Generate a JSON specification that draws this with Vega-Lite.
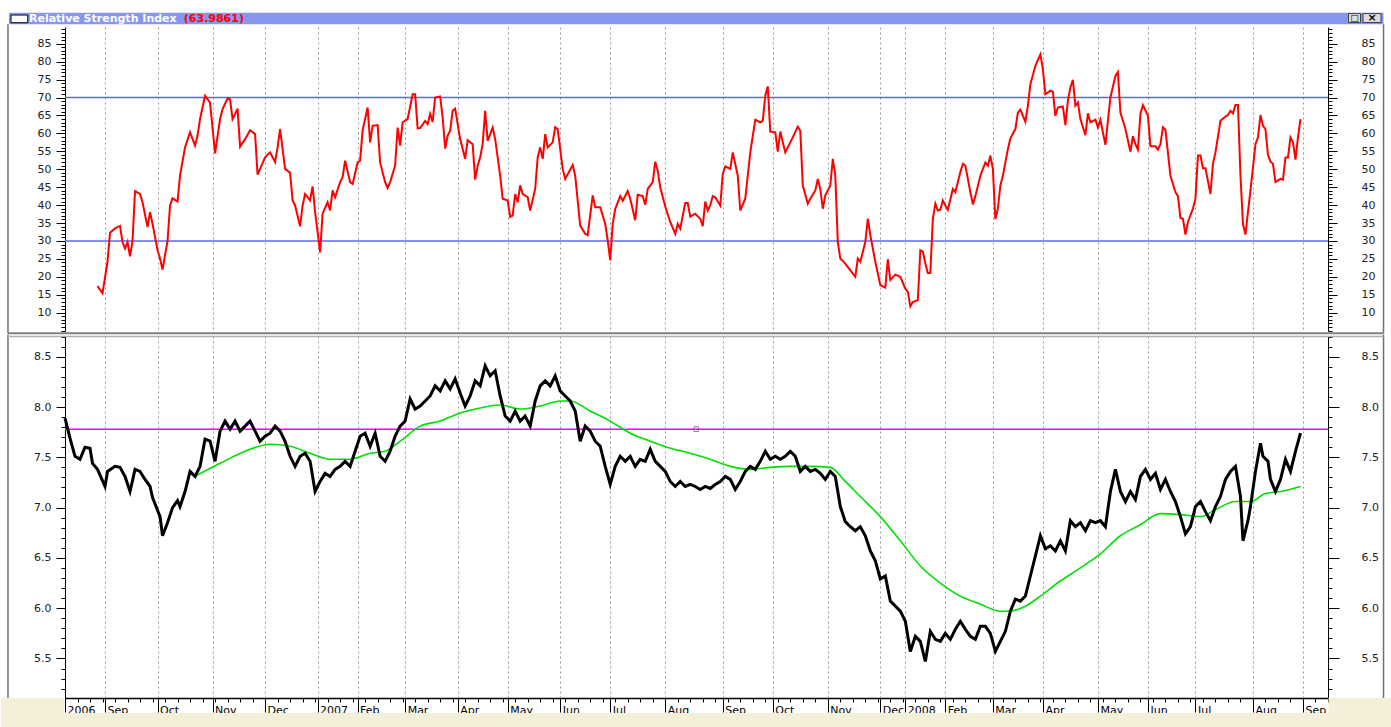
{
"$schema": "https://vega.github.io/schema/vega-lite/v6.json",
"background": "white",
"padding": {"left": 0, "top": 12, "right": 0, "bottom": 0},
"spacing": 5,
"bounds": "flush",
"config": {"view": {"stroke": null}, "axis": {"labelFont": "DejaVu Sans", "labelFontSize": 11, "labelColor": "#222222", "tickColor": "#000000", "domainColor": "#000000"}},
"datasets": {
"one": [{}],
"rsi": [
{"d":13,"v":17.4},{"d":15,"v":15.4},{"d":17,"v":24.2},{"d":18,"v":32.3},{"d":20,"v":33.5},{"d":22,"v":34.2},{"d":23,"v":29.7},{"d":24,"v":27.9},{"d":25,"v":29.7},{"d":26,"v":25.7},{"d":27,"v":30},{"d":28,"v":43.9},{"d":30,"v":43.1},{"d":31,"v":40.8},{"d":33,"v":33.9},{"d":34,"v":38},{"d":35,"v":34.8},{"d":37,"v":27.4},{"d":38,"v":25.1},{"d":39,"v":22},{"d":41,"v":30},{"d":42,"v":39.9},{"d":43,"v":41.9},{"d":45,"v":41},{"d":46,"v":48.2},{"d":48,"v":56.1},{"d":50,"v":60.3},{"d":52,"v":56.6},{"d":53,"v":59.4},{"d":54,"v":64},{"d":56,"v":70.5},{"d":58,"v":68.6},{"d":60,"v":54.4},{"d":62,"v":64},{"d":63,"v":66.8},{"d":65,"v":69.8},{"d":66,"v":69.5},{"d":67,"v":64},{"d":68,"v":65.4},{"d":69,"v":66.9},{"d":70,"v":56.3},{"d":72,"v":58.4},{"d":74,"v":60.9},{"d":76,"v":59.8},{"d":77,"v":48.5},{"d":78,"v":50.1},{"d":80,"v":53.3},{"d":82,"v":54.7},{"d":84,"v":52},{"d":85,"v":56.1},{"d":86,"v":61.2},{"d":88,"v":50.1},{"d":90,"v":49},{"d":91,"v":41.3},{"d":92,"v":39.9},{"d":94,"v":34.1},{"d":95,"v":39.9},{"d":96,"v":43.1},{"d":98,"v":41.3},{"d":99,"v":45.2},{"d":100,"v":38.1},{"d":102,"v":26.8},{"d":103,"v":37.6},{"d":105,"v":40.8},{"d":106,"v":38.5},{"d":107,"v":44.1},{"d":108,"v":42.2},{"d":110,"v":46.4},{"d":111,"v":47.8},{"d":112,"v":52.4},{"d":114,"v":46.4},{"d":115,"v":45.9},{"d":117,"v":51.9},{"d":118,"v":52.4},{"d":119,"v":60.8},{"d":121,"v":67.2},{"d":122,"v":57.5},{"d":123,"v":62.1},{"d":125,"v":62.3},{"d":126,"v":51.9},{"d":128,"v":46.4},{"d":129,"v":44.8},{"d":130,"v":46.4},{"d":132,"v":51},{"d":133,"v":61.6},{"d":134,"v":56.6},{"d":135,"v":63.1},{"d":137,"v":64},{"d":139,"v":70.9},{"d":140,"v":70.9},{"d":141,"v":61.4},{"d":142,"v":61.5},{"d":144,"v":63.5},{"d":145,"v":62.6},{"d":146,"v":65.4},{"d":147,"v":63.2},{"d":148,"v":70},{"d":150,"v":70.3},{"d":151,"v":64.4},{"d":152,"v":55.8},{"d":153,"v":59.4},{"d":154,"v":60.7},{"d":155,"v":66.3},{"d":156,"v":66.9},{"d":158,"v":58.4},{"d":160,"v":52.9},{"d":161,"v":58.1},{"d":163,"v":57},{"d":164,"v":47.1},{"d":165,"v":51},{"d":166,"v":53.3},{"d":167,"v":57},{"d":168,"v":66.3},{"d":169,"v":57.9},{"d":171,"v":61.6},{"d":172,"v":58.4},{"d":174,"v":48.2},{"d":175,"v":41.8},{"d":177,"v":41.3},{"d":178,"v":36.7},{"d":179,"v":37.1},{"d":180,"v":43.1},{"d":181,"v":40.8},{"d":182,"v":45.5},{"d":183,"v":43.1},{"d":185,"v":42.2},{"d":186,"v":38.5},{"d":188,"v":44.5},{"d":189,"v":53.3},{"d":190,"v":56.1},{"d":191,"v":52.9},{"d":192,"v":59.8},{"d":193,"v":56.1},{"d":195,"v":57.5},{"d":196,"v":61.7},{"d":197,"v":61.2},{"d":199,"v":50.1},{"d":200,"v":47.3},{"d":203,"v":51.2},{"d":204,"v":48.2},{"d":206,"v":34.3},{"d":208,"v":32},{"d":209,"v":31.6},{"d":211,"v":42.7},{"d":212,"v":39.4},{"d":214,"v":39.4},{"d":216,"v":34.8},{"d":217,"v":30.2},{"d":218,"v":24.6},{"d":219,"v":34.8},{"d":220,"v":38.9},{"d":222,"v":42.5},{"d":223,"v":41.2},{"d":225,"v":43.9},{"d":226,"v":41.8},{"d":228,"v":35.8},{"d":229,"v":42.9},{"d":231,"v":42.5},{"d":232,"v":40.1},{"d":233,"v":44.5},{"d":235,"v":46.4},{"d":236,"v":52.1},{"d":237,"v":49.6},{"d":238,"v":45},{"d":240,"v":39.6},{"d":242,"v":35.3},{"d":244,"v":32},{"d":245,"v":34.8},{"d":246,"v":33.4},{"d":248,"v":40.6},{"d":249,"v":40.6},{"d":250,"v":36.8},{"d":252,"v":37.6},{"d":254,"v":36.2},{"d":255,"v":34.1},{"d":256,"v":41},{"d":257,"v":38.5},{"d":258,"v":39.9},{"d":259,"v":42.5},{"d":260,"v":42.2},{"d":262,"v":39.9},{"d":263,"v":48.7},{"d":264,"v":50.8},{"d":266,"v":50.1},{"d":267,"v":54.7},{"d":269,"v":48.2},{"d":270,"v":38.5},{"d":272,"v":41.8},{"d":273,"v":48.2},{"d":274,"v":54.7},{"d":276,"v":63.8},{"d":278,"v":63.1},{"d":279,"v":63.5},{"d":280,"v":70.5},{"d":281,"v":73.1},{"d":282,"v":60.5},{"d":284,"v":60.3},{"d":285,"v":54.9},{"d":286,"v":60.5},{"d":287,"v":57.5},{"d":288,"v":54.7},{"d":290,"v":57.5},{"d":291,"v":58.9},{"d":293,"v":61.9},{"d":294,"v":60.7},{"d":295,"v":45.5},{"d":297,"v":40.4},{"d":298,"v":41.8},{"d":300,"v":44.1},{"d":301,"v":47.3},{"d":302,"v":44.5},{"d":303,"v":39},{"d":304,"v":42.7},{"d":306,"v":45.5},{"d":307,"v":52.9},{"d":308,"v":48.2},{"d":309,"v":29.7},{"d":310,"v":25.1},{"d":312,"v":23.7},{"d":314,"v":21.8},{"d":316,"v":20},{"d":317,"v":25.1},{"d":318,"v":24.2},{"d":320,"v":29.7},{"d":321,"v":36.2},{"d":322,"v":31.6},{"d":324,"v":24.2},{"d":326,"v":17.7},{"d":328,"v":17},{"d":329,"v":24.9},{"d":330,"v":19.1},{"d":332,"v":20.6},{"d":334,"v":20},{"d":336,"v":16.7},{"d":337,"v":15.8},{"d":338,"v":11.8},{"d":339,"v":13},{"d":341,"v":13.5},{"d":342,"v":27.4},{"d":343,"v":27.1},{"d":344,"v":23.7},{"d":345,"v":21.1},{"d":346,"v":21.1},{"d":347,"v":36.2},{"d":348,"v":40.4},{"d":349,"v":38.5},{"d":350,"v":38.7},{"d":351,"v":41.3},{"d":352,"v":39.9},{"d":353,"v":38.7},{"d":355,"v":44.5},{"d":356,"v":43.6},{"d":358,"v":49.2},{"d":359,"v":51.5},{"d":360,"v":51},{"d":362,"v":43.6},{"d":363,"v":40.2},{"d":364,"v":42.5},{"d":366,"v":48.2},{"d":368,"v":51.9},{"d":369,"v":51},{"d":370,"v":53.8},{"d":371,"v":50.1},{"d":372,"v":36.1},{"d":373,"v":39},{"d":374,"v":45.5},{"d":375,"v":48.2},{"d":377,"v":55.6},{"d":378,"v":58.6},{"d":380,"v":61.2},{"d":381,"v":65.8},{"d":382,"v":66.6},{"d":384,"v":63.2},{"d":385,"v":67.7},{"d":386,"v":73.7},{"d":388,"v":78.8},{"d":390,"v":82},{"d":391,"v":77.9},{"d":392,"v":70.9},{"d":394,"v":71.9},{"d":395,"v":71.6},{"d":396,"v":64.9},{"d":397,"v":67.2},{"d":399,"v":67.5},{"d":400,"v":62.3},{"d":401,"v":69.1},{"d":402,"v":72.8},{"d":403,"v":74.9},{"d":404,"v":67.7},{"d":405,"v":68.6},{"d":406,"v":64},{"d":408,"v":59.5},{"d":409,"v":65.6},{"d":410,"v":63.1},{"d":412,"v":63.8},{"d":413,"v":61.7},{"d":414,"v":63.8},{"d":416,"v":56.8},{"d":417,"v":63.5},{"d":418,"v":70},{"d":420,"v":76},{"d":421,"v":77.1},{"d":422,"v":65.8},{"d":424,"v":61.2},{"d":426,"v":54.9},{"d":427,"v":59.2},{"d":428,"v":57},{"d":429,"v":55.5},{"d":430,"v":65.4},{"d":431,"v":67.9},{"d":433,"v":64.9},{"d":434,"v":56.4},{"d":436,"v":56.4},{"d":437,"v":55.5},{"d":438,"v":57},{"d":439,"v":61.7},{"d":440,"v":61},{"d":442,"v":48.2},{"d":444,"v":43.6},{"d":445,"v":42.5},{"d":446,"v":36.4},{"d":447,"v":36.2},{"d":448,"v":31.8},{"d":449,"v":35.3},{"d":451,"v":39},{"d":452,"v":41.8},{"d":453,"v":53.8},{"d":454,"v":53.8},{"d":455,"v":50.3},{"d":456,"v":50.3},{"d":458,"v":43.1},{"d":459,"v":51.5},{"d":460,"v":54.7},{"d":462,"v":63.5},{"d":464,"v":64.7},{"d":465,"v":65.1},{"d":466,"v":66.3},{"d":467,"v":65.6},{"d":468,"v":67.9},{"d":469,"v":67.9},{"d":470,"v":48.2},{"d":471,"v":34.8},{"d":472,"v":31.8},{"d":473,"v":38.1},{"d":474,"v":44.1},{"d":476,"v":57},{"d":477,"v":58.9},{"d":478,"v":65.1},{"d":479,"v":62.1},{"d":480,"v":61.2},{"d":481,"v":54},{"d":482,"v":52.1},{"d":483,"v":51.5},{"d":484,"v":46.4},{"d":486,"v":47.3},{"d":487,"v":47.1},{"d":488,"v":53.3},{"d":489,"v":53.3},{"d":490,"v":58.9},{"d":491,"v":57.5},{"d":492,"v":52.7},{"d":493,"v":58.9},{"d":494,"v":63.99}
],
"price": [
{"d":0,"v":7.89},{"d":2,"v":7.69},{"d":4,"v":7.51},{"d":6,"v":7.48},{"d":8,"v":7.6},{"d":10,"v":7.59},{"d":11,"v":7.44},{"d":13,"v":7.38},{"d":16,"v":7.21},{"d":17,"v":7.36},{"d":20,"v":7.41},{"d":22,"v":7.4},{"d":24,"v":7.31},{"d":26,"v":7.16},{"d":28,"v":7.38},{"d":30,"v":7.36},{"d":32,"v":7.28},{"d":34,"v":7.21},{"d":35,"v":7.1},{"d":38,"v":6.91},{"d":39,"v":6.72},{"d":41,"v":6.85},{"d":43,"v":7},{"d":45,"v":7.07},{"d":46,"v":7.01},{"d":48,"v":7.16},{"d":50,"v":7.36},{"d":52,"v":7.31},{"d":54,"v":7.41},{"d":56,"v":7.68},{"d":58,"v":7.66},{"d":60,"v":7.46},{"d":62,"v":7.76},{"d":64,"v":7.86},{"d":66,"v":7.78},{"d":68,"v":7.86},{"d":70,"v":7.76},{"d":72,"v":7.81},{"d":74,"v":7.86},{"d":76,"v":7.76},{"d":78,"v":7.66},{"d":80,"v":7.71},{"d":82,"v":7.74},{"d":84,"v":7.81},{"d":86,"v":7.76},{"d":88,"v":7.66},{"d":90,"v":7.51},{"d":92,"v":7.41},{"d":94,"v":7.51},{"d":96,"v":7.54},{"d":98,"v":7.46},{"d":100,"v":7.16},{"d":102,"v":7.26},{"d":104,"v":7.34},{"d":106,"v":7.31},{"d":108,"v":7.38},{"d":110,"v":7.41},{"d":112,"v":7.46},{"d":114,"v":7.41},{"d":116,"v":7.56},{"d":118,"v":7.71},{"d":120,"v":7.74},{"d":122,"v":7.61},{"d":124,"v":7.74},{"d":126,"v":7.51},{"d":128,"v":7.46},{"d":130,"v":7.56},{"d":132,"v":7.71},{"d":134,"v":7.81},{"d":136,"v":7.86},{"d":138,"v":8.08},{"d":140,"v":7.98},{"d":142,"v":8.01},{"d":144,"v":8.06},{"d":146,"v":8.11},{"d":148,"v":8.21},{"d":150,"v":8.16},{"d":152,"v":8.26},{"d":154,"v":8.18},{"d":156,"v":8.28},{"d":158,"v":8.14},{"d":160,"v":8.01},{"d":162,"v":8.11},{"d":164,"v":8.26},{"d":166,"v":8.21},{"d":168,"v":8.41},{"d":170,"v":8.31},{"d":172,"v":8.36},{"d":174,"v":8.11},{"d":176,"v":7.91},{"d":178,"v":7.86},{"d":180,"v":7.96},{"d":182,"v":7.86},{"d":184,"v":7.91},{"d":186,"v":7.81},{"d":188,"v":8.06},{"d":190,"v":8.21},{"d":192,"v":8.26},{"d":194,"v":8.21},{"d":196,"v":8.31},{"d":198,"v":8.16},{"d":200,"v":8.11},{"d":202,"v":8.06},{"d":204,"v":7.96},{"d":206,"v":7.66},{"d":208,"v":7.81},{"d":210,"v":7.76},{"d":212,"v":7.66},{"d":214,"v":7.61},{"d":216,"v":7.41},{"d":218,"v":7.23},{"d":220,"v":7.41},{"d":222,"v":7.51},{"d":224,"v":7.46},{"d":226,"v":7.51},{"d":228,"v":7.41},{"d":230,"v":7.48},{"d":232,"v":7.46},{"d":234,"v":7.58},{"d":236,"v":7.46},{"d":238,"v":7.41},{"d":240,"v":7.36},{"d":242,"v":7.26},{"d":244,"v":7.21},{"d":246,"v":7.26},{"d":248,"v":7.21},{"d":250,"v":7.23},{"d":252,"v":7.21},{"d":254,"v":7.18},{"d":256,"v":7.21},{"d":258,"v":7.19},{"d":260,"v":7.23},{"d":262,"v":7.26},{"d":264,"v":7.31},{"d":266,"v":7.28},{"d":268,"v":7.18},{"d":270,"v":7.26},{"d":272,"v":7.36},{"d":274,"v":7.41},{"d":276,"v":7.38},{"d":278,"v":7.46},{"d":280,"v":7.56},{"d":282,"v":7.48},{"d":284,"v":7.51},{"d":286,"v":7.48},{"d":288,"v":7.51},{"d":290,"v":7.56},{"d":292,"v":7.51},{"d":294,"v":7.36},{"d":296,"v":7.41},{"d":298,"v":7.36},{"d":300,"v":7.38},{"d":302,"v":7.34},{"d":304,"v":7.28},{"d":306,"v":7.36},{"d":308,"v":7.31},{"d":310,"v":7.01},{"d":312,"v":6.86},{"d":314,"v":6.81},{"d":316,"v":6.77},{"d":318,"v":6.81},{"d":320,"v":6.72},{"d":322,"v":6.57},{"d":324,"v":6.47},{"d":326,"v":6.29},{"d":328,"v":6.32},{"d":330,"v":6.07},{"d":332,"v":6.02},{"d":334,"v":5.97},{"d":336,"v":5.87},{"d":338,"v":5.57},{"d":340,"v":5.72},{"d":342,"v":5.67},{"d":344,"v":5.47},{"d":346,"v":5.77},{"d":348,"v":5.69},{"d":350,"v":5.67},{"d":352,"v":5.75},{"d":354,"v":5.69},{"d":356,"v":5.79},{"d":358,"v":5.87},{"d":360,"v":5.79},{"d":362,"v":5.72},{"d":364,"v":5.69},{"d":366,"v":5.82},{"d":368,"v":5.82},{"d":370,"v":5.75},{"d":372,"v":5.57},{"d":374,"v":5.67},{"d":376,"v":5.77},{"d":378,"v":5.97},{"d":380,"v":6.09},{"d":382,"v":6.07},{"d":384,"v":6.12},{"d":386,"v":6.32},{"d":388,"v":6.52},{"d":390,"v":6.72},{"d":392,"v":6.59},{"d":394,"v":6.62},{"d":396,"v":6.57},{"d":398,"v":6.67},{"d":400,"v":6.57},{"d":402,"v":6.87},{"d":404,"v":6.81},{"d":406,"v":6.85},{"d":408,"v":6.77},{"d":410,"v":6.87},{"d":412,"v":6.85},{"d":414,"v":6.87},{"d":416,"v":6.81},{"d":418,"v":7.16},{"d":420,"v":7.38},{"d":422,"v":7.16},{"d":424,"v":7.06},{"d":426,"v":7.16},{"d":428,"v":7.08},{"d":430,"v":7.31},{"d":432,"v":7.38},{"d":434,"v":7.28},{"d":436,"v":7.34},{"d":438,"v":7.18},{"d":440,"v":7.28},{"d":442,"v":7.16},{"d":444,"v":7.06},{"d":446,"v":6.91},{"d":448,"v":6.74},{"d":450,"v":6.81},{"d":452,"v":7.01},{"d":454,"v":7.06},{"d":456,"v":6.96},{"d":458,"v":6.87},{"d":460,"v":7.01},{"d":462,"v":7.11},{"d":464,"v":7.28},{"d":466,"v":7.36},{"d":468,"v":7.41},{"d":470,"v":7.11},{"d":471,"v":6.67},{"d":473,"v":6.87},{"d":474,"v":7.01},{"d":476,"v":7.36},{"d":478,"v":7.64},{"d":479,"v":7.51},{"d":481,"v":7.46},{"d":482,"v":7.28},{"d":484,"v":7.16},{"d":486,"v":7.28},{"d":488,"v":7.48},{"d":490,"v":7.36},{"d":492,"v":7.56},{"d":494,"v":7.74}
],
"ma": [
{"d":52,"v":7.31},{"d":62,"v":7.44},{"d":72,"v":7.56},{"d":82,"v":7.63},{"d":90,"v":7.61},{"d":98,"v":7.54},{"d":106,"v":7.48},{"d":114,"v":7.48},{"d":122,"v":7.54},{"d":128,"v":7.56},{"d":134,"v":7.66},{"d":142,"v":7.81},{"d":150,"v":7.86},{"d":158,"v":7.94},{"d":166,"v":7.99},{"d":174,"v":8.02},{"d":182,"v":7.98},{"d":190,"v":8.01},{"d":198,"v":8.06},{"d":202,"v":8.06},{"d":210,"v":7.96},{"d":218,"v":7.86},{"d":226,"v":7.74},{"d":234,"v":7.66},{"d":242,"v":7.59},{"d":250,"v":7.54},{"d":258,"v":7.48},{"d":266,"v":7.41},{"d":274,"v":7.38},{"d":282,"v":7.4},{"d":290,"v":7.41},{"d":298,"v":7.41},{"d":306,"v":7.4},{"d":312,"v":7.26},{"d":318,"v":7.11},{"d":326,"v":6.91},{"d":334,"v":6.67},{"d":342,"v":6.42},{"d":350,"v":6.25},{"d":358,"v":6.12},{"d":366,"v":6.04},{"d":374,"v":5.97},{"d":378,"v":5.97},{"d":384,"v":6.02},{"d":390,"v":6.12},{"d":398,"v":6.27},{"d":406,"v":6.4},{"d":414,"v":6.54},{"d":422,"v":6.72},{"d":430,"v":6.83},{"d":438,"v":6.94},{"d":446,"v":6.93},{"d":454,"v":6.91},{"d":460,"v":6.98},{"d":468,"v":7.06},{"d":474,"v":7.06},{"d":480,"v":7.14},{"d":486,"v":7.16},{"d":494,"v":7.21}
],
"rsiLevels": [{"lv":30},{"lv":70}],
"priceLevels": [{"lv":7.78}]
},
"vconcat": [
{
"width": 1263, "height": 304,
"layer": [
{"data": {"name": "one"}, "mark": {"type": "rect", "color": "#8797ee"},
 "encoding": {"x": {"datum": -22.4, "type": "quantitative", "scale": {"domain": [0, 505], "nice": false, "zero": false}, "axis": null}, "x2": {"datum": 527.2}, "y": {"datum": 90.4, "type": "quantitative", "scale": {"domain": [4.9, 89.66], "nice": false, "zero": false}, "axis": {"orient": "right", "values": [10,15,20,25,30,35,40,45,50,55,60,65,70,75,80,85], "tickSize": 9, "labelPadding": 24, "labelAlign": "left", "grid": false, "domainWidth": 1, "title": null}}, "y2": {"datum": 93.64}}},
{"data": {"name": "one"}, "mark": {"type": "rect", "fill": "white", "stroke": "#000000", "strokeWidth": 1},
 "encoding": {"x": {"datum": -21.6, "type": "quantitative", "axis": null}, "x2": {"datum": -14.9}, "y": {"datum": 90.85, "type": "quantitative", "axis": {"orient": "right", "values": [5,6,7,8,9,11,12,13,14,16,17,18,19,21,22,23,24,26,27,28,29,31,32,33,34,36,37,38,39,41,42,43,44,46,47,48,49,51,52,53,54,56,57,58,59,61,62,63,64,66,67,68,69,71,72,73,74,76,77,78,79,81,82,83,84,86,87,88,89], "tickSize": 4, "labels": false, "domain": false, "grid": false, "title": null}}, "y2": {"datum": 93.0}}},
{"data": {"name": "one"}, "mark": {"type": "rect", "fill": "#dcdcdc", "stroke": "#404040", "strokeWidth": 1},
 "encoding": {"x": {"datum": 513.2, "type": "quantitative", "axis": null}, "x2": {"datum": 518.0}, "y": {"datum": 90.9, "type": "quantitative", "axis": null}, "y2": {"datum": 93.4}}},
{"data": {"name": "one"}, "mark": {"type": "rect", "fill": "#dcdcdc", "stroke": "#404040", "strokeWidth": 1},
 "encoding": {"x": {"datum": 519.0, "type": "quantitative", "axis": null}, "x2": {"datum": 526.2}, "y": {"datum": 90.9, "type": "quantitative", "axis": null}, "y2": {"datum": 93.4}}},
{"data": {"name": "one"}, "mark": {"type": "text", "align": "center", "baseline": "middle", "font": "DejaVu Sans", "fontSize": 11, "fontWeight": "bold", "color": "#000000", "text": "×"},
 "encoding": {"x": {"datum": 522.6, "type": "quantitative", "axis": null}, "y": {"datum": 92.1, "type": "quantitative", "axis": null}}},
{"data": {"name": "one"}, "mark": {"type": "text", "align": "center", "baseline": "middle", "font": "DejaVu Sans", "fontSize": 9, "color": "#000000", "text": "□"},
 "encoding": {"x": {"datum": 515.6, "type": "quantitative", "axis": null}, "y": {"datum": 92.1, "type": "quantitative", "axis": null}}},
{"data": {"name": "one"}, "mark": {"type": "text", "align": "left", "baseline": "middle", "font": "DejaVu Sans", "fontSize": 11, "fontWeight": "bold", "color": "white", "text": "Relative Strength Index"},
 "encoding": {"x": {"datum": -14.4, "type": "quantitative", "axis": null}, "y": {"datum": 92.0, "type": "quantitative", "axis": {"orient": "left", "values": [5,6,7,8,9,11,12,13,14,16,17,18,19,21,22,23,24,26,27,28,29,31,32,33,34,36,37,38,39,41,42,43,44,46,47,48,49,51,52,53,54,56,57,58,59,61,62,63,64,66,67,68,69,71,72,73,74,76,77,78,79,81,82,83,84,86,87,88,89], "tickSize": 4, "labels": false, "domain": false, "grid": false, "title": null}}}},
{"data": {"name": "one"}, "mark": {"type": "text", "align": "left", "baseline": "middle", "font": "DejaVu Sans", "fontSize": 11, "fontWeight": "bold", "color": "#ff0000", "text": "(63.9861)"},
 "encoding": {"x": {"datum": 47.5, "type": "quantitative", "axis": null}, "y": {"datum": 92.0, "type": "quantitative", "axis": null}}},
{"data": {"name": "one"}, "mark": {"type": "rule", "color": "#808080", "strokeWidth": 2},
 "encoding": {"x": {"datum": -22.8, "type": "quantitative", "axis": null}, "x2": {"datum": 527.2}, "y": {"datum": 4.3, "type": "quantitative", "axis": null}}},
{"data": {"name": "one"}, "mark": {"type": "rule", "color": "#707070", "strokeWidth": 1.5},
 "encoding": {"x": {"datum": -22.8, "type": "quantitative", "axis": null}, "y": {"datum": 90.4, "type": "quantitative", "axis": null}, "y2": {"datum": 4.3}}},
{"data": {"name": "one"}, "mark": {"type": "rule", "color": "#707070", "strokeWidth": 1.5},
 "encoding": {"x": {"datum": 527.2, "type": "quantitative", "axis": null}, "y": {"datum": 90.4, "type": "quantitative", "axis": null}, "y2": {"datum": 4.3}}},
{"data": {"name": "rsiLevels"}, "mark": {"type": "rule", "color": "#5b68f0", "strokeWidth": 1.5},
 "encoding": {"y": {"field": "lv", "type": "quantitative", "axis": null}}},
{"data": {"name": "rsi"}, "mark": {"type": "line", "color": "#ff0000", "strokeWidth": 2},
 "encoding": {"x": {"field": "d", "type": "quantitative", "axis": {"values": [0,16,37,59,80,101,117,136,157,177,198,218,240,263,283,305,326,336,352,371,391,413,433,452,475,495], "labels": false, "ticks": false, "domain": false, "grid": true, "gridDash": [2,3], "gridColor": "#9a9a9a", "gridWidth": 1, "title": null}},
  "y": {"field": "v", "type": "quantitative", "axis": {"orient": "left", "values": [10,15,20,25,30,35,40,45,50,55,60,65,70,75,80,85], "tickSize": 9, "labelPadding": 5, "grid": false, "domainWidth": 1, "title": null}}}}
],
"resolve": {"axis": {"x": "independent", "y": "independent"}}
},
{
"width": 1263, "height": 362,
"layer": [
{"data": {"name": "one"}, "mark": {"type": "rect", "color": "#f3efd8"},
 "encoding": {"x": {"datum": -25.6, "type": "quantitative", "scale": {"domain": [0, 505], "nice": false, "zero": false}, "axis": null}, "x2": {"datum": 531.2}, "y": {"datum": 4.958, "type": "quantitative", "scale": {"domain": [5.107, 8.706], "nice": false, "zero": false}, "axis": null}, "y2": {"datum": 4.8}}},
{"data": {"name": "one"}, "mark": {"type": "rect", "color": "#f3efd8"},
 "encoding": {"x": {"datum": -25.6, "type": "quantitative", "axis": null}, "x2": {"datum": -0.4}, "y": {"datum": 5.107, "type": "quantitative", "axis": null}, "y2": {"datum": 4.958}}},
{"data": {"name": "one"}, "mark": {"type": "rect", "color": "#f3efd8"},
 "encoding": {"x": {"datum": 505.2, "type": "quantitative", "axis": null}, "x2": {"datum": 531.2}, "y": {"datum": 5.107, "type": "quantitative", "axis": null}, "y2": {"datum": 4.958}}},
{"data": {"name": "one"}, "mark": {"type": "rule", "color": "#707070", "strokeWidth": 1.5},
 "encoding": {"x": {"datum": -22.8, "type": "quantitative", "axis": null}, "y": {"datum": 8.72, "type": "quantitative", "axis": {"orient": "right", "values": [5.5,6.0,6.5,7.0,7.5,8.0,8.5], "format": ".1f", "tickSize": 11, "labelPadding": 22, "labelAlign": "left", "grid": false, "title": null}}, "y2": {"datum": 5.107}}},
{"data": {"name": "one"}, "mark": {"type": "rule", "color": "#707070", "strokeWidth": 1.5},
 "encoding": {"x": {"datum": 527.2, "type": "quantitative", "axis": null}, "y": {"datum": 8.72, "type": "quantitative", "axis": {"orient": "right", "values": [5.2,5.3,5.4,5.6,5.7,5.8,5.9,6.1,6.2,6.3,6.4,6.6,6.7,6.8,6.9,7.1,7.2,7.3,7.4,7.6,7.7,7.8,7.9,8.1,8.2,8.3,8.4,8.6,8.7], "tickSize": 4, "labels": false, "domain": false, "grid": false, "title": null}}, "y2": {"datum": 5.107}}},
{"data": {"name": "one"}, "mark": {"type": "rule", "color": "#b0b0b0", "strokeWidth": 1.5},
 "encoding": {"x": {"datum": -22.8, "type": "quantitative", "axis": null}, "x2": {"datum": 527.2}, "y": {"datum": 8.7, "type": "quantitative", "axis": {"orient": "left", "values": [5.2,5.3,5.4,5.6,5.7,5.8,5.9,6.1,6.2,6.3,6.4,6.6,6.7,6.8,6.9,7.1,7.2,7.3,7.4,7.6,7.7,7.8,7.9,8.1,8.2,8.3,8.4,8.6,8.7], "tickSize": 4, "labels": false, "domain": false, "grid": false, "title": null}}}},
{"data": {"name": "priceLevels"}, "mark": {"type": "rule", "color": "#ff00ff", "strokeWidth": 1.5},
 "encoding": {"y": {"field": "lv", "type": "quantitative", "axis": null}}},
{"data": {"name": "one"}, "mark": {"type": "point", "shape": "square", "size": 22, "filled": false, "color": "#555555", "strokeWidth": 1},
 "encoding": {"x": {"datum": 252.4, "type": "quantitative", "axis": null}, "y": {"datum": 7.78, "type": "quantitative", "axis": null}}},
{"data": {"name": "ma"}, "mark": {"type": "line", "color": "#00e000", "strokeWidth": 1.6, "interpolate": "monotone"},
 "encoding": {"x": {"field": "d", "type": "quantitative", "axis": {"orient": "bottom", "values": [0,5,10,15,20,25,30,35,40,45,50,55,60,65,70,75,80,85,90,95,100,105,110,115,120,125,130,135,140,145,150,155,160,165,170,175,180,185,190,195,200,205,210,215,220,225,230,235,240,245,250,255,260,265,270,275,280,285,290,295,300,305,310,315,320,325,330,335,340,345,350,355,360,365,370,375,380,385,390,395,400,405,410,415,420,425,430,435,440,445,450,455,460,465,470,475,480,485,490,495,500,505], "labels": false, "domain": false, "grid": false, "tickSize": 4, "title": null}}, "y": {"field": "v", "type": "quantitative", "axis": null}}},
{"data": {"name": "price"}, "mark": {"type": "line", "color": "#000000", "strokeWidth": 3},
 "encoding": {"x": {"field": "d", "type": "quantitative", "axis": {"orient": "bottom", "values": [0,16,37,59,80,101,117,136,157,177,198,218,240,263,283,305,326,336,352,371,391,413,433,452,475,495], "labelExpr": "['2006','Sep','Oct','Nov','Dec','2007','Feb','Mar','Apr','May','Jun','Jul','Aug','Sep','Oct','Nov','Dec','2008','Feb','Mar','Apr','May','Jun','Jul','Aug','Sep'][indexof([0,16,37,59,80,101,117,136,157,177,198,218,240,263,283,305,326,336,352,371,391,413,433,452,475,495], datum.value)]", "labelAlign": "left", "labelBaseline": "top", "labelOffset": 2, "labelPadding": -8, "labelFontSize": 11, "labelColor": "#000000", "labelOverlap": false, "labelFlush": false, "tickSize": 14, "domainWidth": 1.5, "grid": true, "gridDash": [2,3], "gridColor": "#9a9a9a", "title": null}},
  "y": {"field": "v", "type": "quantitative", "axis": {"orient": "left", "values": [5.5,6.0,6.5,7.0,7.5,8.0,8.5], "format": ".1f", "tickSize": 9, "labelPadding": 5, "grid": false, "title": null}}}}
],
"resolve": {"axis": {"x": "independent", "y": "independent"}}
}
]
}
